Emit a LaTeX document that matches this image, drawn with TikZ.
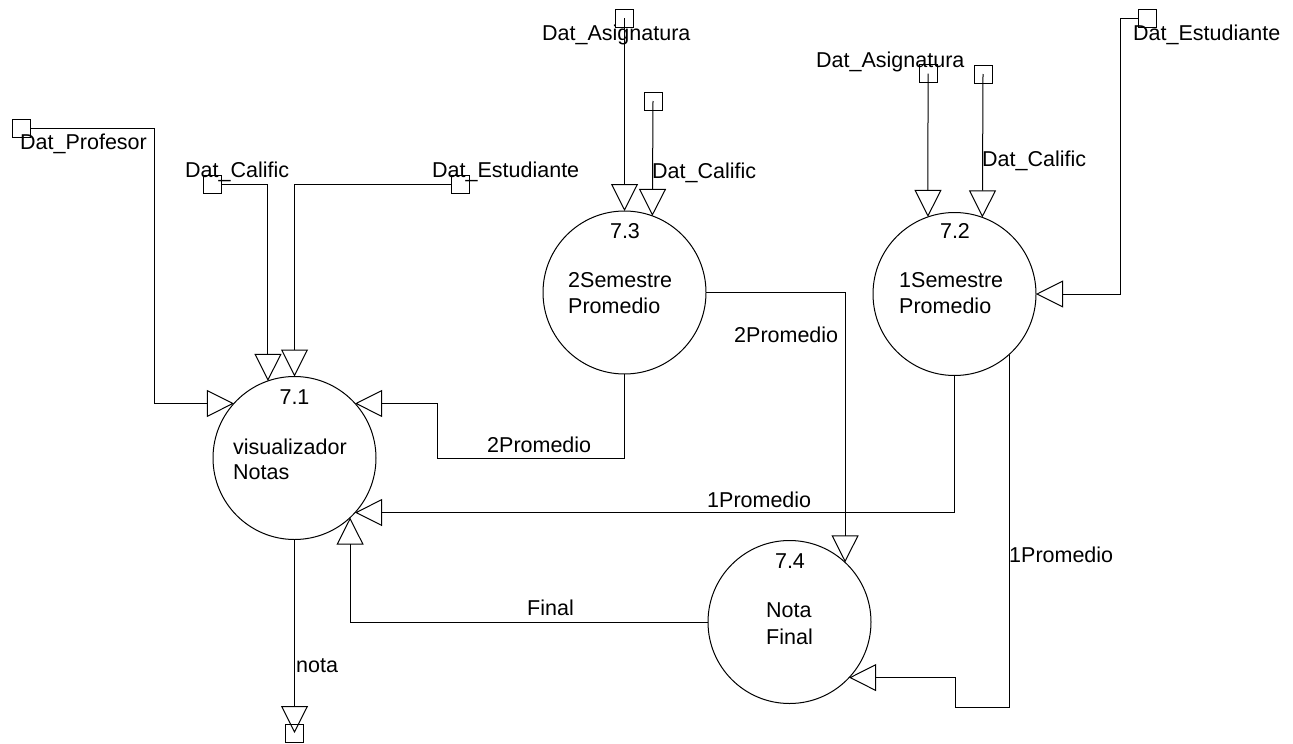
\documentclass[tikz,border=0pt]{standalone}
\usepackage{fontspec}
\setmainfont{Liberation Sans}
\usetikzlibrary{arrows.meta}
\begin{document}
\begin{tikzpicture}[x=1pt,y=-1pt,
  proc/.style={draw,circle,minimum size=163pt,inner sep=0pt,outer sep=0pt,line width=1pt},
  store/.style={draw,rectangle,minimum size=18pt,inner sep=0pt,outer sep=0pt,line width=1pt},
  flow/.style={line width=1pt,-{Triangle[open,length=27pt,width=27pt,line width=1pt]}},
  txt/.style={inner sep=0pt,anchor=base west,font=\fontsize{21.5}{24}\selectfont},
  num/.style={inner sep=0pt,anchor=base,font=\fontsize{21.5}{24}\selectfont}]
\useasboundingbox (0,0) rectangle (1293,744);

% processes
\node[proc] (p71) at (294.5,458) {};
\node[proc] (p73) at (624.5,292.5) {};
\node[proc] (p72) at (954.5,294) {};
\node[proc] (p74) at (789.5,622) {};

% data stores
\node[store] (sprof)  at (21,128) {};
\node[store] (scal1)  at (212.5,184) {};
\node[store] (sest1)  at (460.5,184) {};
\node[store] (sasig3) at (624.5,18) {};
\node[store] (scal3)  at (653,101) {};
\node[store] (sasig2) at (928,73.5) {};
\node[store] (scal2)  at (983,74) {};
\node[store] (sest2)  at (1147.5,18.5) {};
\node[store] (snota)  at (294.5,733) {};

% bend points
\coordinate (kprof) at (154,128);
\coordinate (kest2) at (1120,18.5);
\coordinate (k2p)   at (437,458);
\coordinate (k1p)   at (955,707);

% flows
\draw[flow] (sprof.east) -- (kprof) |- (p71.138);
\draw[flow] (scal1.east) -| (p71.109);
\draw[flow] (sest1.west) -| (p71.90);
\draw[flow] (sasig3.center) -- (p73.90);
\draw[flow] (scal3.center) -- (p73.70);
\draw[flow] (sasig2.center) -- (p72.109);
\draw[flow] (scal2.center) -- (p72.70);
\draw[flow] (sest2.west) -- (kest2) |- (p72.east);
\draw[flow] (p73.east) -| (p74.47);
\draw[flow] (p73.south) |- (k2p) |- (p71.42);
\draw[flow] (p72.south) |- (p71.-42);
\draw[flow] (p72.-48) |- (k1p) |- (p74.-43);
\draw[flow] (p74.west) -| (p71.-47);
\draw[flow] (p71.south) -- (snota.center);

% process texts
\node[num] (n71) at (294.5,404) {7.1};
\node[txt] (t71a) at (233,454) {visualizador};
\node[txt] (t71b) at (233,479) {Notas};
\node[num] (n73) at (625,238) {7.3};
\node[txt] (t73a) at (568,287) {2Semestre};
\node[txt] (t73b) at (568,313) {Promedio};
\node[num] (n72) at (955,238) {7.2};
\node[txt] (t72a) at (899,287) {1Semestre};
\node[txt] (t72b) at (899,313) {Promedio};
\node[num] (n74) at (790,568) {7.4};
\node[txt] (t74a) at (766,617) {Nota};
\node[txt] (t74b) at (766,644) {Final};

% store and flow labels
\node[txt] (lprof)  at (20,149)   {Dat\_Profesor};
\node[txt] (lcal1)  at (185,177)  {Dat\_Calific};
\node[txt] (lest1)  at (432,177)  {Dat\_Estudiante};
\node[txt] (lasig3) at (542,40)   {Dat\_Asignatura};
\node[txt] (lcal3)  at (652,178)  {Dat\_Calific};
\node[txt] (lasig2) at (816,67)   {Dat\_Asignatura};
\node[txt] (lcal2)  at (982,166)  {Dat\_Calific};
\node[txt] (lest2)  at (1133,40)  {Dat\_Estudiante};
\node[txt] (l2pa)   at (734,342)  {2Promedio};
\node[txt] (l2pb)   at (487,452)  {2Promedio};
\node[txt] (l1pa)   at (707,507)  {1Promedio};
\node[txt] (l1pb)   at (1009,562) {1Promedio};
\node[txt] (lfin)   at (527,615)  {Final};
\node[txt] (lnota)  at (296,672)  {nota};
\end{tikzpicture}
\end{document}
